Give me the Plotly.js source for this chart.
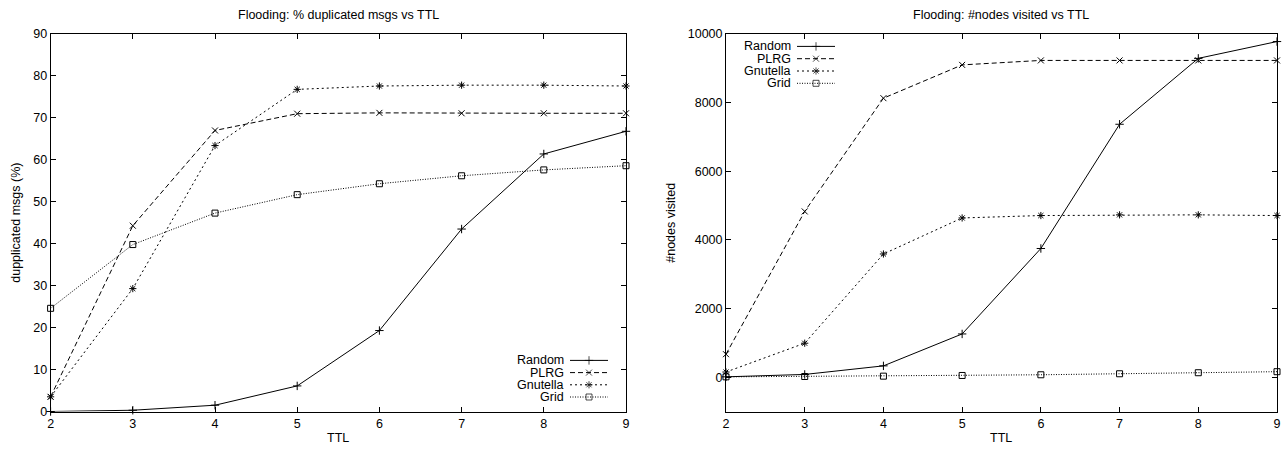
<!DOCTYPE html>
<html>
<head>
<meta charset="utf-8">
<script src="https://cdn.plot.ly/plotly-3.0.1.min.js"></script>
<style>html,body{margin:0;padding:0;background:#fff;}#chart{width:1286px;height:451px;}</style>
</head>
<body>
<div id="chart"></div>
<script>
// ---- data ----
const ttl = [2, 3, 4, 5, 6, 7, 8, 9];
const seriesNames = ["Random", "PLRG", "Gnutella", "Grid"];

const dupRandom   = [0, 0.3, 1.5, 6.1, 19.3, 43.5, 61.4, 66.8];
const dupPLRG     = [3.5, 44.3, 67.0, 71.0, 71.2, 71.1, 71.1, 71.1];
const dupGnutella = [3.5, 29.3, 63.4, 76.8, 77.6, 77.8, 77.8, 77.6];
const dupGrid     = [24.6, 39.8, 47.3, 51.7, 54.3, 56.2, 57.6, 58.6];

const nodesRandom   = [10, 80, 330, 1260, 3750, 7370, 9290, 9780];
const nodesPLRG     = [670, 4830, 8130, 9100, 9230, 9230, 9230, 9230];
const nodesGnutella = [150, 990, 3590, 4640, 4710, 4730, 4730, 4710];
const nodesGrid     = [10, 20, 30, 50, 70, 100, 130, 160];

const leftTitle = "Flooding: % duplicated msgs vs TTL";
const rightTitle = "Flooding: #nodes visited vs TTL";
const xTitle = "TTL";
const leftYTitle = "dupplicated msgs (%)";
const rightYTitle = "#nodes visited";
const leftYTicks = [0, 10, 20, 30, 40, 50, 60, 70, 80, 90];
const rightYTicks = [0, 2000, 4000, 6000, 8000, 10000];
const rightYTickText = ["0", "2000", "4000", "6000", "8000", "10000"];

// ---- layout constants (pixels) ----
const W = 1286, H = 451;
const FONT = "Liberation Sans, Arial, Helvetica, sans-serif";
const FS = 12.5;
const L = {x0: 50.6, x1: 626};
const R = {x0: 726, x1: 1277};
const TOP = 34, BOT = 411.5;
const px = v => v / W;
const py = v => 1 - v / H;

const styles = [
  {dash: "solid", symbol: "cross-thin-open"},
  {dash: "5px,3px", symbol: "x-thin-open"},
  {dash: "2px,3px", symbol: "asterisk-open"},
  {dash: "1px,1.5px", symbol: "square-open"}
];
const MS = 6;

function series(x, y, i, xa, ya) {
  return {
    x: x, y: y, type: "scatter", mode: "lines+markers",
    name: seriesNames[i], xaxis: xa, yaxis: ya, cliponaxis: false, showlegend: false,
    line: {color: "#000", width: 1, dash: styles[i].dash},
    marker: {symbol: styles[i].symbol, size: MS, color: "#000", line: {color: "#000", width: 1}}
  };
}

const dupData = [dupRandom, dupPLRG, dupGnutella, dupGrid];
const nodeData = [nodesRandom, nodesPLRG, nodesGnutella, nodesGrid];
const traces = [];
dupData.forEach((d, i) => traces.push(series(ttl, d, i, "x", "y")));
nodeData.forEach((d, i) => traces.push(series(ttl, d, i, "x2", "y2")));

// ---- custom gnuplot-style keys (text right, sample to the right) ----
const annotations = [];
function addKey(textRight, sx0, sx1, row0, step) {
  seriesNames.forEach((n, i) => {
    const yy = row0 + i * step;
    annotations.push({text: n, xref: "paper", yref: "paper", x: px(textRight), y: py(yy),
      xanchor: "right", yanchor: "middle", showarrow: false, font: {family: FONT, size: FS, color: "#000"}});
    traces.push({
      x: [sx0, (sx0 + sx1) / 2, sx1], y: [yy, yy, yy], type: "scatter", mode: "lines+markers",
      xaxis: "x3", yaxis: "y3", showlegend: false, hoverinfo: "skip", cliponaxis: false,
      line: {color: "#000", width: 1, dash: styles[i].dash},
      marker: {symbol: styles[i].symbol, size: [0, MS, 0], color: "#000", line: {color: "#000", width: 1}}
    });
  });
}
addKey(566, 570, 608, 360.4, 12.2);
addKey(793, 797, 835, 46.4, 12.3);

// titles
const tfont = {family: FONT, size: FS, color: "#000"};
annotations.push({text: leftTitle, xref: "paper", yref: "paper", x: px((L.x0 + L.x1) / 2), y: py(15),
  xanchor: "center", yanchor: "middle", showarrow: false, font: tfont});
annotations.push({text: rightTitle, xref: "paper", yref: "paper", x: px((R.x0 + R.x1) / 2), y: py(15),
  xanchor: "center", yanchor: "middle", showarrow: false, font: tfont});
annotations.push({text: xTitle, xref: "paper", yref: "paper", x: px((L.x0 + L.x1) / 2), y: py(438),
  xanchor: "center", yanchor: "middle", showarrow: false, font: tfont});
annotations.push({text: xTitle, xref: "paper", yref: "paper", x: px((R.x0 + R.x1) / 2), y: py(438),
  xanchor: "center", yanchor: "middle", showarrow: false, font: tfont});
annotations.push({text: leftYTitle, xref: "paper", yref: "paper", x: px(16), y: py((TOP + BOT) / 2),
  xanchor: "center", yanchor: "middle", textangle: -90, showarrow: false, font: tfont});
annotations.push({text: rightYTitle, xref: "paper", yref: "paper", x: px(671), y: py((TOP + BOT) / 2),
  xanchor: "center", yanchor: "middle", textangle: -90, showarrow: false, font: tfont});

const axBase = {
  showline: true, linecolor: "#000", linewidth: 1, mirror: "ticks",
  ticks: "inside", ticklen: 5, tickwidth: 1, tickcolor: "#000",
  showgrid: false, zeroline: false, fixedrange: true,
  tickfont: {family: FONT, size: FS, color: "#000"}
};
const yDom = [py(BOT), py(TOP)];

const layout = {
  width: W, height: H, margin: {l: 0, r: 0, t: 0, b: 0},
  paper_bgcolor: "#fff", plot_bgcolor: "rgba(0,0,0,0)", showlegend: false,
  font: {family: FONT, size: FS, color: "#000"},
  xaxis: Object.assign({}, axBase, {domain: [px(L.x0), px(L.x1)], range: [2, 9], tickvals: ttl, anchor: "y"}),
  yaxis: Object.assign({}, axBase, {domain: yDom, range: [0, 90], tickvals: leftYTicks, anchor: "x"}),
  xaxis2: Object.assign({}, axBase, {domain: [px(R.x0), px(R.x1)], range: [2, 9], tickvals: ttl, anchor: "y2"}),
  yaxis2: Object.assign({}, axBase, {domain: yDom, range: [-1000, 10000], tickvals: rightYTicks,
    ticktext: rightYTickText, anchor: "x2"}),
  xaxis3: {domain: [0, 1], range: [0, W], visible: false, anchor: "y3", fixedrange: true},
  yaxis3: {domain: [0, 1], range: [H, 0], visible: false, anchor: "x3", fixedrange: true},
  annotations: annotations
};

Plotly.newPlot("chart", traces, layout, {staticPlot: true, displayModeBar: false});
</script>
</body>
</html>
